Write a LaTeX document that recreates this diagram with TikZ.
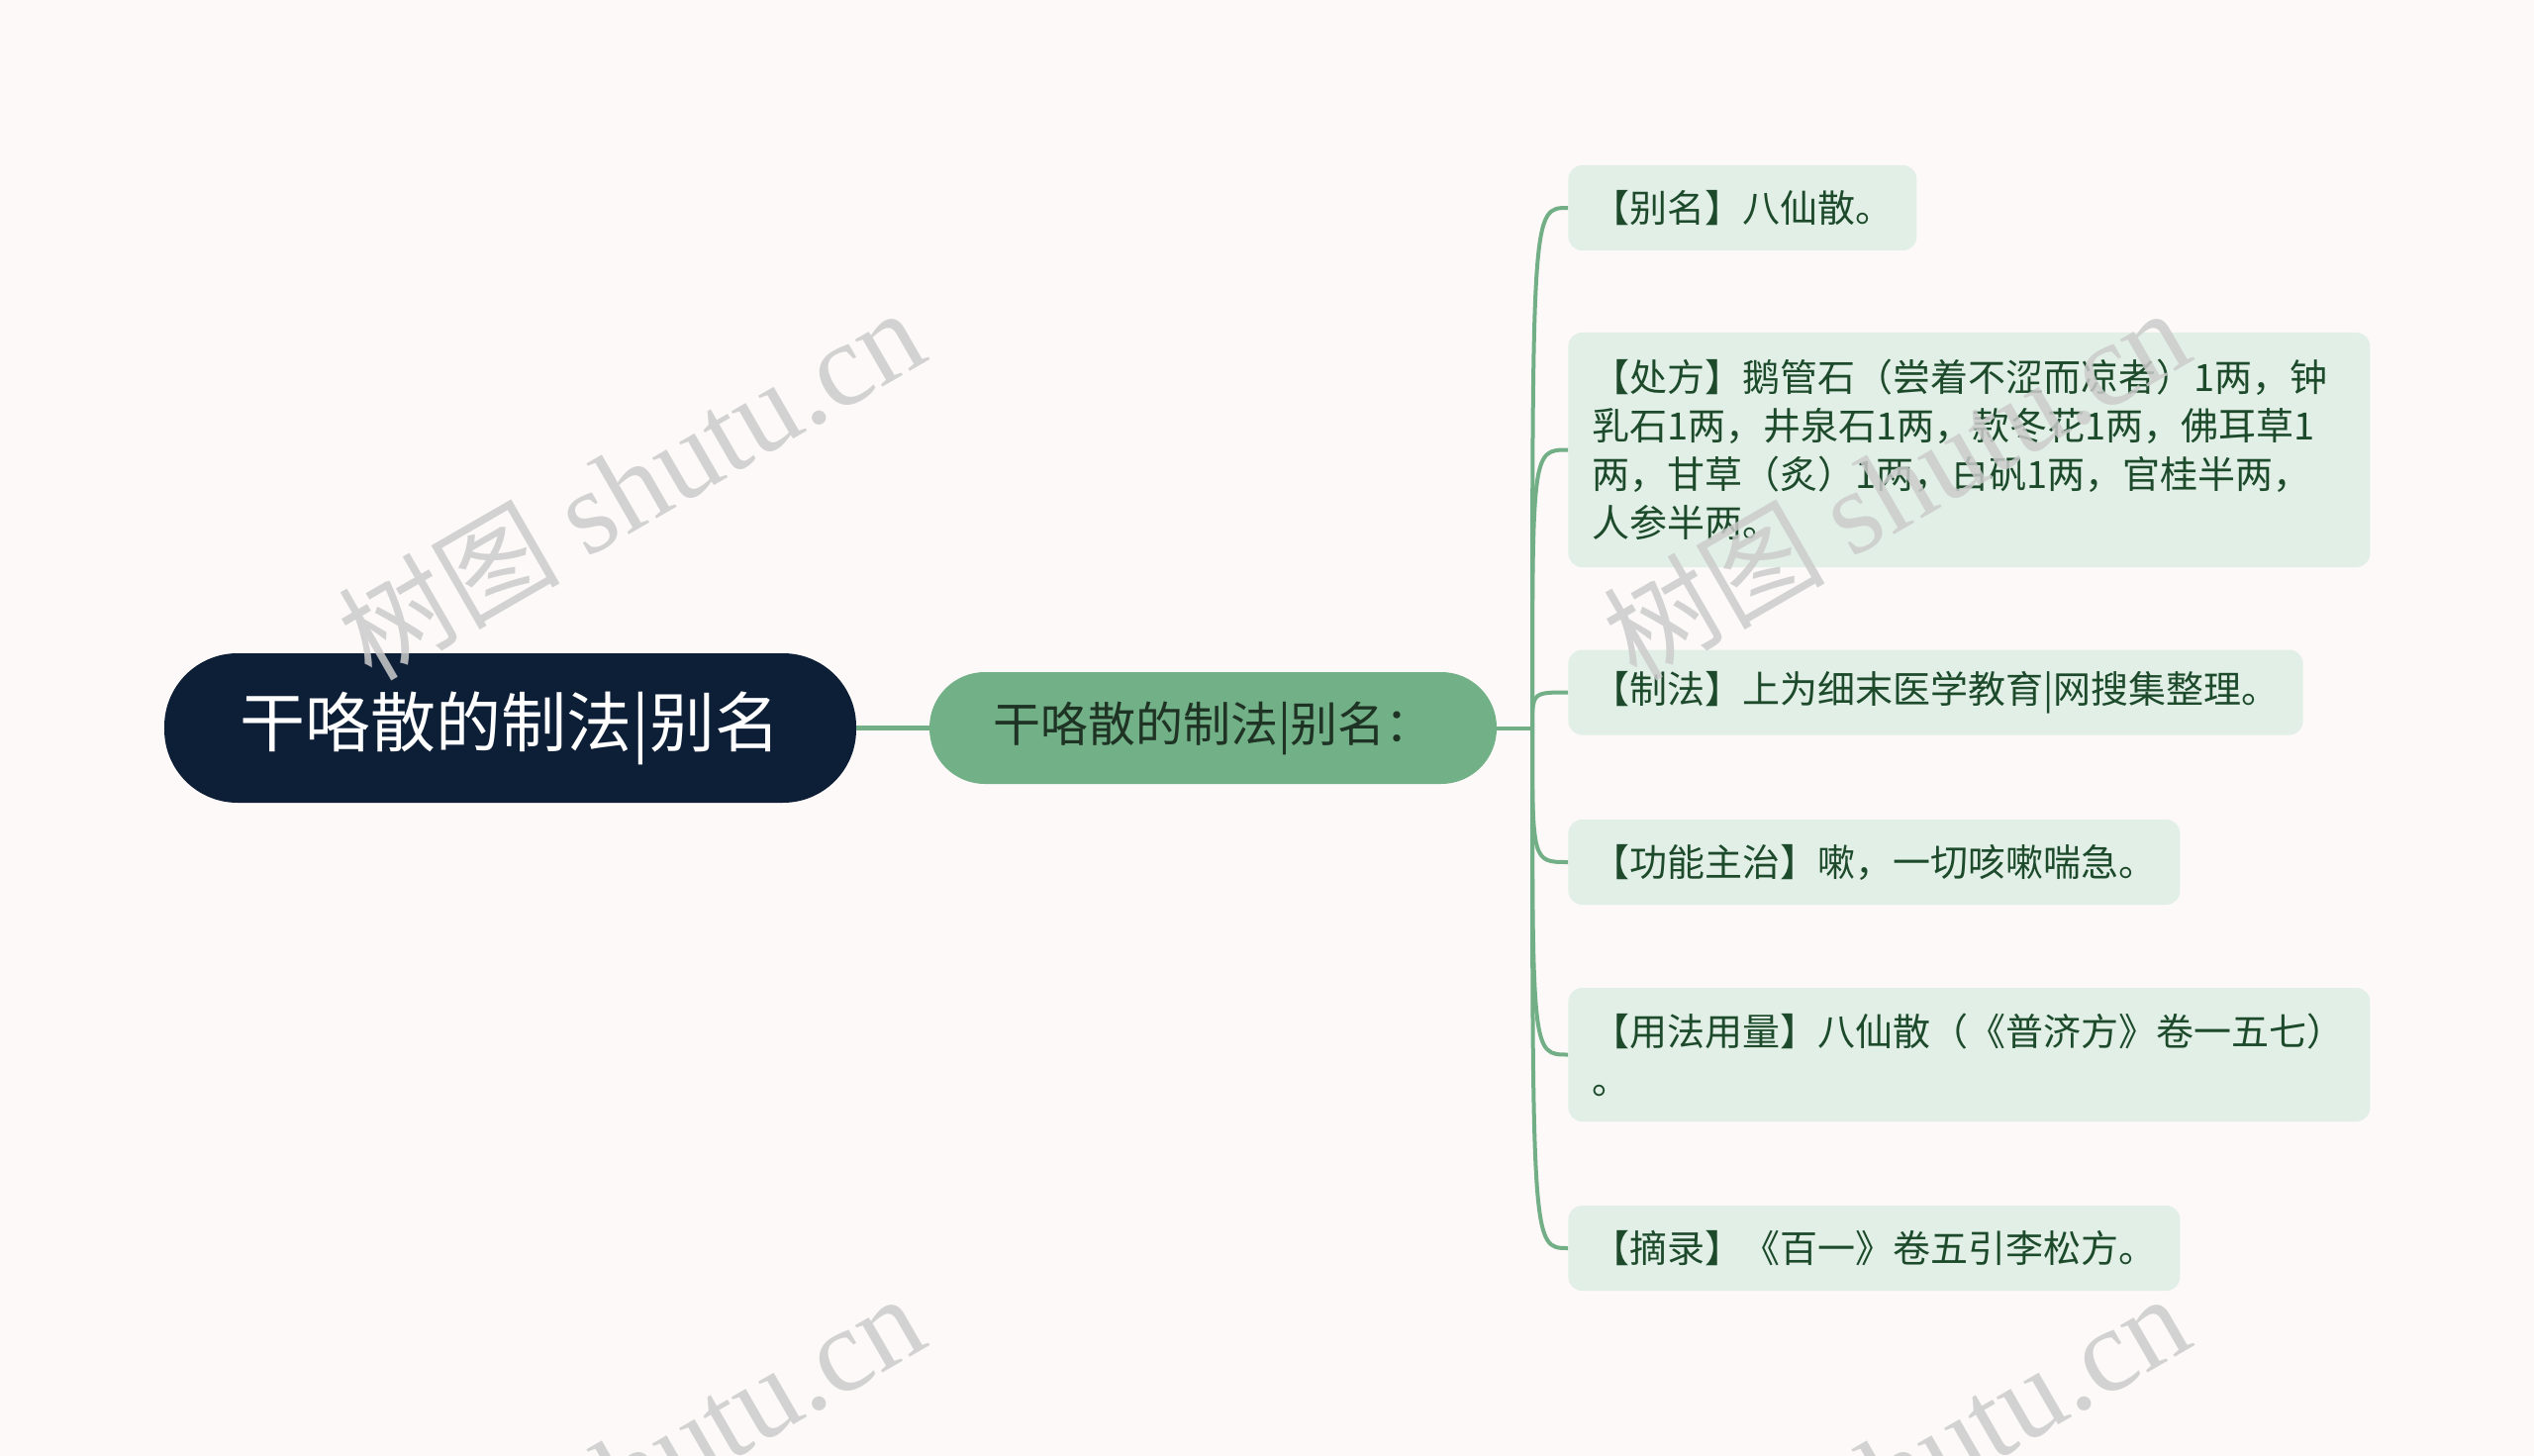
\documentclass[tikz,border=0pt]{standalone}
\usepackage{fontspec}
\setmainfont{Noto Sans CJK SC}
\newfontfamily\wmlatin{Liberation Serif}
\usepackage{tikz}
\usetikzlibrary{calc}
\definecolor{bgcol}{HTML}{FCF9F8}
\definecolor{rootcol}{HTML}{0D1E37}
\definecolor{subcol}{HTML}{72B087}
\definecolor{subtext}{HTML}{1F3324}
\definecolor{leafcol}{HTML}{E1EFE6}
\definecolor{leaftext}{HTML}{1C4A2B}
\definecolor{linecol}{HTML}{72AE86}

\begin{document}
\begin{tikzpicture}[x=0.5pt, y=-0.5pt,
    rootbox/.style={fill=rootcol, text=white, font=\fontsize{33}{38}\selectfont,
        minimum width=349.5pt, minimum height=75.5pt, rounded corners=37pt, inner sep=0pt},
    subbox/.style={fill=subcol, text=subtext, font=\fontsize{24}{28}\selectfont,
        minimum width=286.5pt, minimum height=56.5pt, rounded corners=28pt, inner sep=0pt},
    leafbox/.style={fill=leafcol, text=leaftext, font=\fontsize{19}{24.5}\selectfont,
        rounded corners=7pt, inner xsep=12pt, inner ysep=0pt, minimum height=43pt,
        anchor=west, align=left},
    branch/.style={draw=linecol, line width=2pt},
    wmark/.style={text=black!20, text opacity=0.85, font=\fontsize{60}{60}\selectfont,
        rotate=30, anchor=base west, inner sep=0pt}]
    % Canvas
    \useasboundingbox (0,0) rectangle (2560,1471);
    \fill[bgcol] (0,0) rectangle (2560,1471);
    % Root and middle node
    \node[rootbox] (root) at (515.5,735.5) {干咯散的制法|别名};
    \node[subbox] (sub) at (1225.5,735.5) {干咯散的制法|别名：};
    % Leaves
    \node[leafbox] (l1) at (1584,210) {【别名】八仙散。};
    \node[leafbox, text width=381pt, minimum height=118.5pt] (l2) at (1584,454.5)
         {【处方】鹅管石（尝着不涩而凉者）1两，钟\\乳石1两，井泉石1两，款冬花1两，佛耳草1\\两，甘草（炙）1两，白矾1两，官桂半两，\\人参半两。};
    \node[leafbox] (l3) at (1584,699.5) {【制法】上为细末医学教育|网搜集整理。};
    \node[leafbox] (l4) at (1584,871) {【功能主治】嗽，一切咳嗽喘急。};
    \node[leafbox, text width=381pt, minimum height=67.5pt] (l5) at (1584,1065.5)
         {【用法用量】八仙散（《普济方》卷一五七）\\。};
    \node[leafbox] (l6) at (1584,1261) {【摘录】《百一》卷五引李松方。};
    % Connectors
    \draw[linecol, line width=2.5pt] (root) -- (sub);
    \coordinate (hub) at (1548,735.5);
    \draw[branch] (sub.east) -- (hub);
    \foreach \n in {l1,l2,l3,l4,l5,l6}
        \draw[branch] (hub) .. controls (hub |- \n.west) .. (\n.west);
    % Watermarks
    \foreach \wx/\wy [count=\i] in {375/690, 1653/690, 375/1686, 1653/1686}
        \node[wmark] (wm\i) at (\wx,\wy) {{\fontsize{56}{56}\selectfont 树图} {\wmlatin shutu.cn}};
\end{tikzpicture}
\end{document}
